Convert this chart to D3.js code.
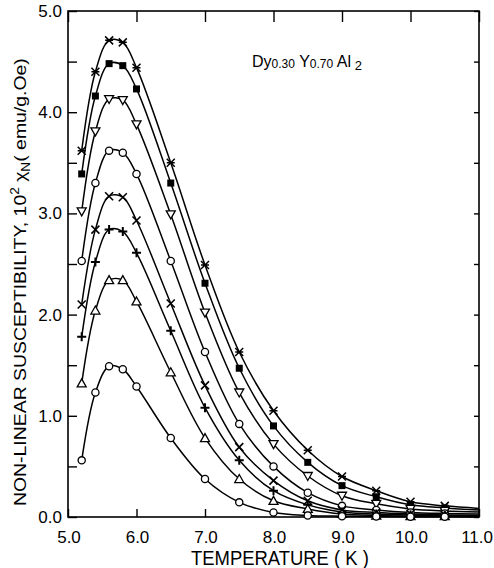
<!DOCTYPE html>
<html><head><meta charset="utf-8">
<script src="https://cdn.jsdelivr.net/npm/d3@7"></script>
<style>
html,body{margin:0;padding:0;background:#fff;}
svg text{font-family:"Liberation Sans Narrow","Liberation Sans",Arial,sans-serif;fill:#000;}
</style></head>
<body>
<svg id="chart" width="494" height="568"></svg>
<script>
// Data
const temperatures = [5.2, 5.4, 5.6, 5.8, 6.0, 6.5, 7.0, 7.5, 8.0, 8.5, 9.0, 9.5, 10.0, 10.5];
const seriesAsterisk = [3.62, 4.40, 4.71, 4.69, 4.44, 3.50, 2.49, 1.63, 1.05, 0.66, 0.40, 0.26, 0.15, 0.11];
const seriesSquare   = [3.39, 4.16, 4.48, 4.46, 4.23, 3.30, 2.31, 1.47, 0.90, 0.54, 0.31, 0.20, 0.12, 0.09];
const seriesDownTri  = [3.02, 3.81, 4.13, 4.12, 3.88, 2.99, 2.02, 1.23, 0.72, 0.405, 0.21, 0.13, 0.08, 0.06];
const seriesCircleHi = [2.53, 3.30, 3.62, 3.60, 3.39, 2.53, 1.63, 0.92, 0.50, 0.24, 0.11, 0.07, 0.045, 0.035];
const seriesCross    = [2.10, 2.84, 3.17, 3.16, 2.93, 2.11, 1.30, 0.69, 0.36, 0.16, 0.07, 0.045, 0.03, 0.02];
const seriesPlus     = [1.78, 2.52, 2.84, 2.82, 2.61, 1.84, 1.08, 0.56, 0.26, 0.12, 0.05, 0.03, 0.02, 0.015];
const seriesUpTri    = [1.32, 2.04, 2.34, 2.34, 2.13, 1.43, 0.78, 0.375, 0.16, 0.08, 0.03, 0.015, 0.01, 0.008];
const seriesCircleLo = [0.56, 1.23, 1.49, 1.46, 1.29, 0.78, 0.375, 0.145, 0.045, 0.015, 0.008, 0.005, 0.003, 0.002];
// fitted curves continue to the right frame (T = 11.0)
const curveEndTemperature = 11.0;
const curveEndValues = [0.085, 0.07, 0.05, 0.03, 0.017, 0.012, 0.006, 0.001];
const markerKinds = ["asterisk", "square", "downTri", "circle", "cross", "plus", "upTri", "circle"];
const xTickLabels = ["5.0", "6.0", "7.0", "8.0", "9.0", "10.0", "11.0"];
const yTickLabels = ["0.0", "1.0", "2.0", "3.0", "4.0", "5.0"];

const allSeries = [seriesAsterisk, seriesSquare, seriesDownTri, seriesCircleHi,
                   seriesCross, seriesPlus, seriesUpTri, seriesCircleLo];

const svg = d3.select("#chart");
const x = d3.scaleLinear().domain([5, 11]).range([68, 479]);
const y = d3.scaleLinear().domain([0, 5]).range([517, 11]);

// ticks (inward)
const axG = svg.append("g");
axG.append("g").attr("transform", `translate(0,${y(0)})`)
  .call(d3.axisTop(x).tickValues(xTickLabels.map(Number)).tickSize(8).tickFormat(""))
  .call(g => g.select(".domain").remove());
axG.append("g").attr("transform", `translate(0,${y(5)})`)
  .call(d3.axisBottom(x).tickValues(xTickLabels.map(Number)).tickSize(11).tickFormat(""))
  .call(g => g.select(".domain").remove());
axG.append("g").attr("transform", `translate(${x(5)},0)`)
  .call(d3.axisRight(y).ticks(10).tickSize(9).tickFormat(""))
  .call(g => g.select(".domain").remove());
axG.append("g").attr("transform", `translate(${x(11)},0)`)
  .call(d3.axisLeft(y).ticks(10).tickSize(5).tickFormat(""))
  .call(g => g.select(".domain").remove());
axG.selectAll("line").attr("stroke", "#000").attr("stroke-width", 1.4);

// frame
svg.append("rect").attr("x", x(5)).attr("y", y(5))
  .attr("width", x(11) - x(5)).attr("height", y(0) - y(5))
  .attr("fill", "none").attr("stroke", "#000").attr("stroke-width", 1.6);

// tick labels
svg.append("g").selectAll("text").data(xTickLabels).join("text")
  .attr("x", (d, i) => i === xTickLabels.length - 1 ? 493 : x(+d) + 1).attr("y", 543)
  .attr("text-anchor", (d, i) => i === xTickLabels.length - 1 ? "end" : "middle")
  .attr("font-size", 17).text(d => d);
svg.append("g").selectAll("text").data(yTickLabels).join("text")
  .attr("x", 62).attr("y", d => y(+d) + 6)
  .attr("text-anchor", "end").attr("font-size", 17).text(d => d);

// axis titles
const xt = svg.append("text").attr("x", 0).attr("y", 0).attr("font-size", 21)
  .text("TEMPERATURE ( K )");
{
  const w = xt.node().getComputedTextLength();
  const target = 178;
  xt.attr("transform", `translate(191,565) scale(${target / w},1)`);
}
const yt = svg.append("text").attr("font-size", 17);
yt.append("tspan").text("NON-LINEAR SUSCEPTIBILITY, 10");
yt.append("tspan").attr("font-size", 12).attr("dy", -7).text("2");
yt.append("tspan").attr("dy", 7).text(" χ");
yt.append("tspan").attr("font-size", 12).attr("dy", 4).text("N");
yt.append("tspan").attr("dy", -4).text("( emu/g.Oe)");
{
  const bb = yt.node().getBBox();
  const target = 448;
  yt.attr("transform", `translate(26,506) rotate(-90) scale(${target / bb.width},1)`);
}

// annotation
const ann = svg.append("text").attr("font-size", 16);
ann.append("tspan").text("Dy");
ann.append("tspan").attr("font-size", 12).attr("dy", 1).text("0.30");
ann.append("tspan").attr("dy", -1).text(" Y");
ann.append("tspan").attr("font-size", 12).attr("dy", 1).text("0.70");
ann.append("tspan").attr("dy", -1).text(" Al");
ann.append("tspan").attr("font-size", 13).attr("dy", 3).text(" 2");
{
  const bb = ann.node().getBBox();
  ann.attr("transform", `translate(252,67) scale(${110 / bb.width},1)`);
}

// curves
const line = d3.line().x(d => x(d[0])).y(d => y(d[1])).curve(d3.curveCatmullRom.alpha(0.5));
allSeries.forEach((vals, i) => {
  const pts = temperatures.map((t, j) => [t, vals[j]]);
  pts.push([curveEndTemperature, curveEndValues[i]]);
  svg.append("path").datum(pts).attr("d", line)
    .attr("fill", "none").attr("stroke", "#000").attr("stroke-width", 1.5);
});

// markers
function drawMarker(g, kind, cx, cy) {
  const s = 4;
  if (kind === "circle") {
    g.append("circle").attr("cx", cx).attr("cy", cy).attr("r", 3.6)
      .attr("fill", "#fff").attr("stroke", "#000").attr("stroke-width", 1.3);
  } else if (kind === "square") {
    g.append("rect").attr("x", cx - 3.5).attr("y", cy - 3.5).attr("width", 7).attr("height", 7)
      .attr("fill", "#000");
  } else if (kind === "upTri") {
    g.append("path").attr("d", `M${cx},${cy - 4.5}L${cx + 4.5},${cy + 3.5}L${cx - 4.5},${cy + 3.5}Z`)
      .attr("fill", "#fff").attr("stroke", "#000").attr("stroke-width", 1.3);
  } else if (kind === "downTri") {
    g.append("path").attr("d", `M${cx},${cy + 4.5}L${cx + 4.5},${cy - 3.5}L${cx - 4.5},${cy - 3.5}Z`)
      .attr("fill", "#fff").attr("stroke", "#000").attr("stroke-width", 1.3);
  } else if (kind === "cross") {
    g.append("path").attr("d", `M${cx - s},${cy - s}L${cx + s},${cy + s}M${cx - s},${cy + s}L${cx + s},${cy - s}`)
      .attr("stroke", "#000").attr("stroke-width", 1.6);
  } else if (kind === "plus") {
    g.append("path").attr("d", `M${cx - s - 0.5},${cy}L${cx + s + 0.5},${cy}M${cx},${cy - s - 0.5}L${cx},${cy + s + 0.5}`)
      .attr("stroke", "#000").attr("stroke-width", 2);
  } else if (kind === "asterisk") {
    g.append("path").attr("d", `M${cx - s},${cy - s}L${cx + s},${cy + s}M${cx - s},${cy + s}L${cx + s},${cy - s}M${cx - s},${cy}L${cx + s},${cy}`)
      .attr("stroke", "#000").attr("stroke-width", 1.5);
  }
}
allSeries.forEach((vals, i) => {
  const g = svg.append("g");
  temperatures.forEach((t, j) => drawMarker(g, markerKinds[i], x(t), y(vals[j])));
});
</script>
</body></html>
